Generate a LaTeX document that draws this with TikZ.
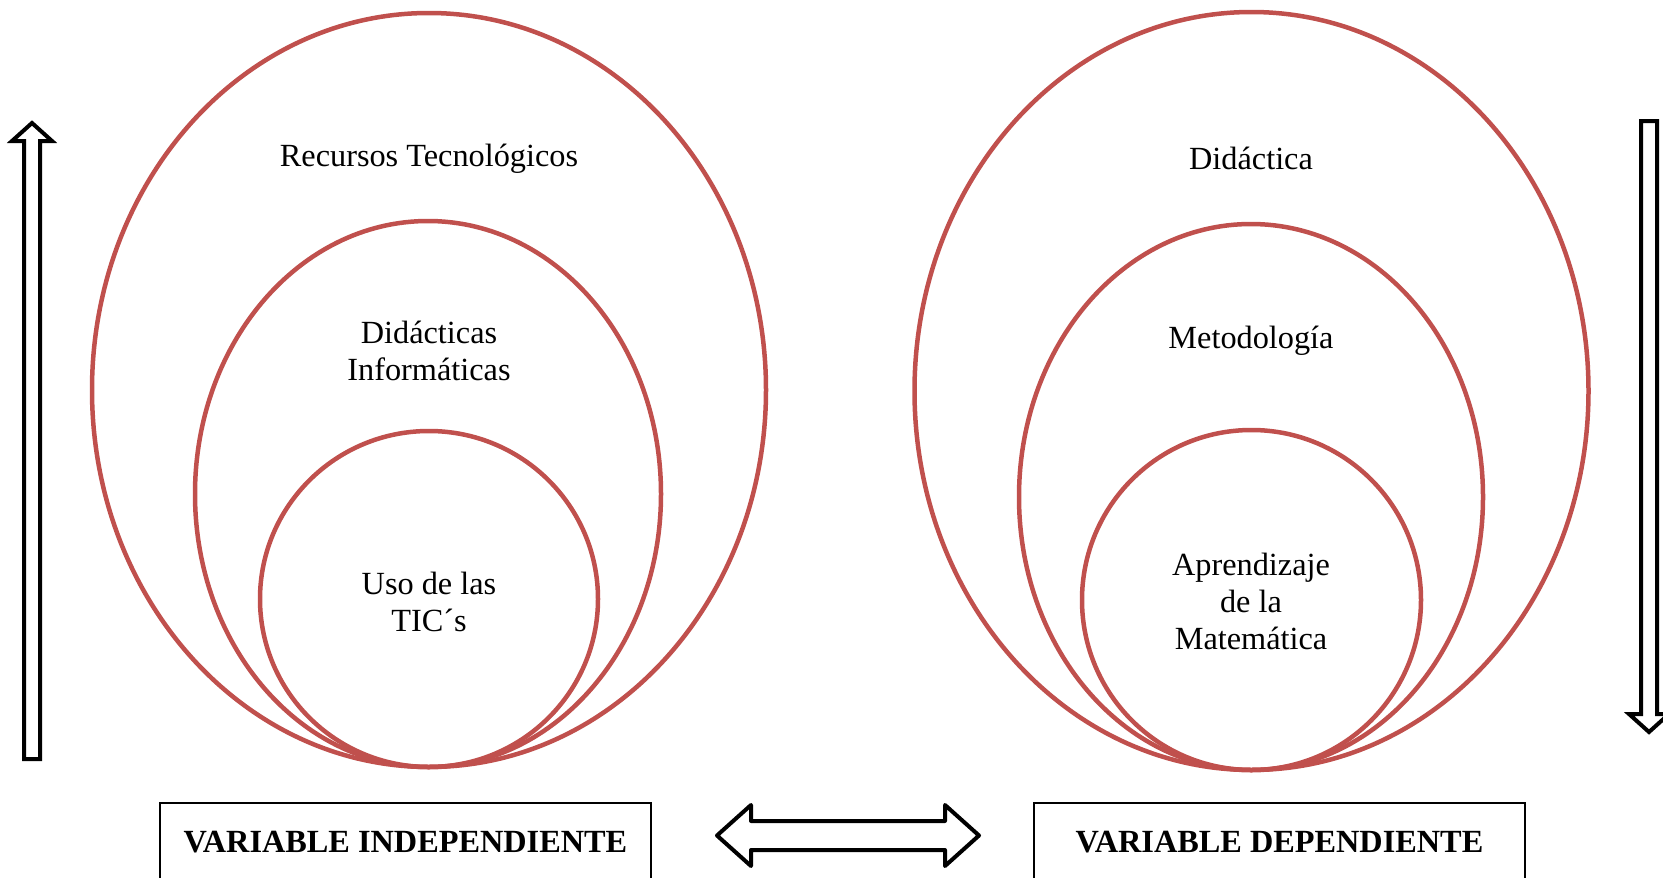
\documentclass[tikz,border=0pt]{standalone}
\usepackage{fontspec}
\setmainfont{Liberation Serif}
\begin{document}
\begin{tikzpicture}[x=1pt,y=-1pt,
  ring/.style={draw=ringred,line width=4.5pt},
  label/.style={font=\fontsize{32.3}{37}\selectfont,align=center,inner sep=0pt},
  varlabel/.style={font=\bfseries\fontsize{32.3}{37}\selectfont,inner sep=0pt},
  varbox/.style={draw=black,line width=1.3pt},
  hollow/.style={draw=black,line width=4pt,line join=miter,fill=white},
  hollowround/.style={draw=black,line width=4pt,line join=round,fill=white}]
\definecolor{ringred}{HTML}{C0504D}
\useasboundingbox (0,0) rectangle (1663,878);

% nested ellipses, independent variable
\draw[ring] (429,390) ellipse [x radius=337pt, y radius=377pt];
\draw[ring] (428,494) ellipse [x radius=233pt, y radius=273pt];
\draw[ring] (429,599) ellipse [x radius=169pt, y radius=168pt];
\node[label] (rt) at (429,159) {Recursos Tecnológicos};
\node[label] (di) at (429,351) {Didácticas\\Informáticas};
\node[label] (tic) at (429,602) {Uso de las\\TIC´s};

% nested ellipses, dependent variable
\draw[ring] (1251.5,391) ellipse [x radius=337pt, y radius=379pt];
\draw[ring] (1251,497) ellipse [x radius=232pt, y radius=273pt];
\draw[ring] (1251.5,600) ellipse [x radius=169.5pt, y radius=170pt];
\node[label] (did) at (1251,158) {Didáctica};
\node[label] (met) at (1251,341) {Metodología};
\node[label] (apr) at (1251,601) {Aprendizaje\\de la\\Matemática};

% hollow arrow up on the left
\draw[hollow] (24,759) -- (24,141) -- (12,141) -- (32,123) -- (52,141)
  -- (40,141) -- (40,759) -- cycle;
% hollow arrow down on the right
\draw[hollow] (1641,121) -- (1641,714) -- (1629,714) -- (1649,732)
  -- (1669,714) -- (1657,714) -- (1657,121) -- cycle;

% variable boxes
\draw[varbox] (160,803) rectangle (651,905);
\node[varlabel] (vi) at (405.5,842) {VARIABLE INDEPENDIENTE};
\draw[varbox] (1034,803) rectangle (1525,905);
\node[varlabel] (vd) at (1279.5,842) {VARIABLE DEPENDIENTE};

% double hollow arrow between the boxes
\draw[hollowround] (717,835.5) -- (751,805) -- (751,821) -- (945,821)
  -- (945,805) -- (979,835.5) -- (945,866) -- (945,850) -- (751,850)
  -- (751,866) -- cycle;
\end{tikzpicture}
\end{document}
